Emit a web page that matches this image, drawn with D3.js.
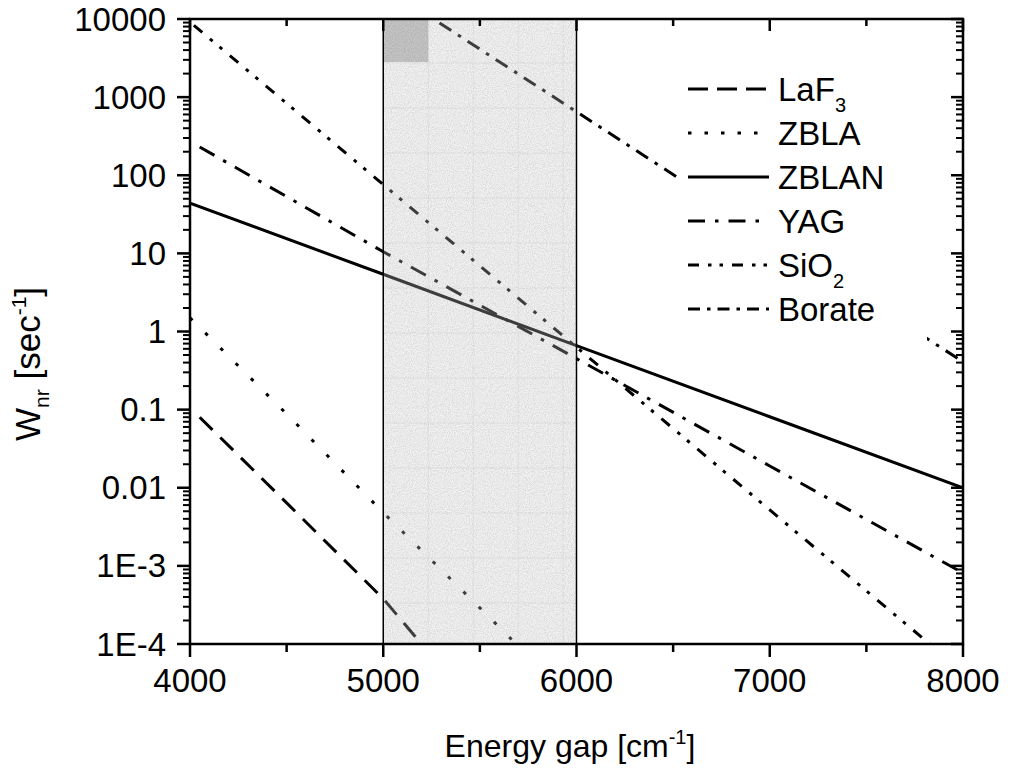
<!DOCTYPE html>
<html>
<head>
<meta charset="utf-8">
<script src="https://cdn.jsdelivr.net/npm/d3@7"></script>
<style>
  html, body { margin: 0; padding: 0; background: #fff; }
  svg { display: block; }
  text { font-family: "Liberation Sans", Arial, sans-serif; fill: #000; }
</style>
</head>
<body>
<svg id="chart" width="1010" height="772"></svg>
<script>
// Non-radiative decay rate vs. energy gap for several host materials
const laf3E   = [4050, 4500, 5000, 5500];
const laf3W   = [0.08, 0.0064, 3.8e-4, 1.3e-5];
const zblaE   = [4000, 4500, 5000, 5500, 6000];
const zblaW   = [1.5, 0.088, 0.0048, 2.9e-4, 1.7e-5];
const zblanE  = [4000, 5000, 6000, 7000, 8000];
const zblanW  = [44, 5.4, 0.66, 0.081, 0.01];
const yagE    = [4050, 5000, 6000, 7000, 8000];
const yagW    = [230, 10.5, 0.45, 0.019, 8.1e-4];
const sio2E   = [4020, 5000, 6000, 7000, 8000];
const sio2W   = [8300, 76, 0.63, 5.2e-3, 4.4e-5];
const borateE = [5000, 6000, 7000, 8000];
const borateW = [26000, 650, 16, 0.41];

const seriesNames = ["LaF", "ZBLA", "ZBLAN", "YAG", "SiO", "Borate"];
const seriesSubs  = ["3", "", "", "", "2", ""];

const xTicks = [4000, 5000, 6000, 7000, 8000];
const xMinorTicks = [4500, 5500, 6500, 7500];
const yTickValues = [1e-4, 1e-3, 0.01, 0.1, 1, 10, 100, 1000, 10000];
const yTickLabels = ["1E-4", "1E-3", "0.01", "0.1", "1", "10", "100", "1000", "10000"];
const bandRange = [5000, 6000];

const dashes = ["18,11", "3.5,18", null, "17,10,3.5,10", "11,10,3.5,9,3.5,10", "14,8,3.5,8"];
const legendDashes = ["20,9", "3.5,13", null, "17,10,3.5,10", "11,9,3.5,8,3.5,9", "12,7,3.5,7"];
const widths = [3, 3, 3, 3, 3, 3];

const series = [
  { E: laf3E, W: laf3W },
  { E: zblaE, W: zblaW },
  { E: zblanE, W: zblanW },
  { E: yagE, W: yagW },
  { E: sio2E, W: sio2W },
  { E: borateE, W: borateW }
].map((s, i) => ({
  name: seriesNames[i],
  sub: seriesSubs[i],
  dash: dashes[i],
  legendDash: legendDashes[i],
  width: widths[i],
  points: s.E.map((e, j) => ({ e, w: s.W[j] }))
}));

const svg = d3.select("#chart");
const L = 190, R = 963, T = 19, B = 644;

const x = d3.scaleLinear().domain([4000, 8000]).range([L, R]);
const y = d3.scaleLog().domain([1e-4, 1e4]).range([B, T]);

const defs = svg.append("defs");
defs.append("clipPath").attr("id", "plotClip")
  .append("rect").attr("x", L).attr("y", T).attr("width", R - L).attr("height", B - T);

// grainy texture for the shaded band
const grain = defs.append("filter").attr("id", "grain")
  .attr("x", 0).attr("y", 0).attr("width", 1).attr("height", 1);
grain.append("feTurbulence").attr("type", "fractalNoise")
  .attr("baseFrequency", 0.95).attr("numOctaves", 2).attr("seed", 3).attr("result", "noise");
grain.append("feColorMatrix").attr("in", "noise").attr("type", "matrix")
  .attr("values", "0 0 0 0 0  0 0 0 0 0  0 0 0 0 0  0.9 0 0 0 -0.32");

// ---- data lines ----
const line = d3.line().x(d => x(d.e)).y(d => y(d.w));
const lines = svg.append("g").attr("clip-path", "url(#plotClip)");
lines.selectAll("path").data(series).join("path")
  .attr("d", d => line(d.points))
  .attr("fill", "none")
  .attr("stroke", "#000")
  .attr("stroke-width", d => d.width)
  .attr("stroke-dasharray", d => d.dash);

// ---- shaded energy band (drawn over the lines, semi-transparent) ----
const bx0 = x(bandRange[0]), bx1 = x(bandRange[1]);
const band = svg.append("g");
band.append("rect")
  .attr("x", bx0).attr("y", T).attr("width", bx1 - bx0).attr("height", B - T)
  .attr("fill", "#d2d2d2").attr("fill-opacity", 0.3);

// faint texture grid inside the band
const cell = 45;
const grid = band.append("g").attr("stroke", "#8a8a8a").attr("stroke-opacity", 0.1).attr("stroke-width", 1);
for (let gx = bx0 + cell; gx < bx1; gx += cell) {
  grid.append("line").attr("x1", gx).attr("x2", gx).attr("y1", T).attr("y2", B);
}
for (let gy = T + 44; gy < B; gy += cell) {
  grid.append("line").attr("x1", bx0).attr("x2", bx1).attr("y1", gy).attr("y2", gy);
}
// darker corner cell
band.append("rect")
  .attr("x", bx0).attr("y", T).attr("width", cell).attr("height", 43)
  .attr("fill", "#a0a0a0").attr("fill-opacity", 0.55);
// grain overlay
band.append("rect")
  .attr("x", bx0).attr("y", T).attr("width", bx1 - bx0).attr("height", B - T)
  .attr("fill", "#000").attr("filter", "url(#grain)").attr("opacity", 0.25);
// band borders
band.append("line").attr("x1", bx0).attr("x2", bx0).attr("y1", T).attr("y2", B)
  .attr("stroke", "#000").attr("stroke-width", 1.5);
band.append("line").attr("x1", bx1).attr("x2", bx1).attr("y1", T).attr("y2", B)
  .attr("stroke", "#000").attr("stroke-width", 1.5);

// ---- legend ----
const legend = svg.append("g");
legend.append("rect").attr("x", 680).attr("y", 58).attr("width", 247).attr("height", 287)
  .attr("fill", "#fff");
const rowY = i => 89 + i * 44;
series.forEach((s, i) => {
  const yy = rowY(i);
  legend.append("line")
    .attr("x1", 688).attr("x2", 769).attr("y1", yy).attr("y2", yy)
    .attr("stroke", "#000").attr("stroke-width", s.width)
    .attr("stroke-dasharray", s.legendDash);
  const t = legend.append("text").attr("x", 778).attr("y", yy + 12)
    .attr("font-size", 33).text(s.name);
  if (s.sub) {
    t.append("tspan").attr("font-size", 20).attr("dy", 11).text(s.sub);
  }
});

// ---- axes frame and ticks ----
const axes = svg.append("g").attr("stroke", "#000");
axes.append("rect").attr("x", L).attr("y", T).attr("width", R - L).attr("height", B - T)
  .attr("fill", "none").attr("stroke-width", 2.5);

const majLen = 13, minLen = 7;
// bottom (outward) and top (inward)
xTicks.forEach(v => {
  axes.append("line").attr("x1", x(v)).attr("x2", x(v)).attr("y1", B).attr("y2", B + majLen).attr("stroke-width", 2.5);
  axes.append("line").attr("x1", x(v)).attr("x2", x(v)).attr("y1", T).attr("y2", T + 12).attr("stroke-width", 2.5);
});
xMinorTicks.forEach(v => {
  axes.append("line").attr("x1", x(v)).attr("x2", x(v)).attr("y1", B).attr("y2", B + minLen + 1).attr("stroke-width", 2.5);
  axes.append("line").attr("x1", x(v)).attr("x2", x(v)).attr("y1", T).attr("y2", T + minLen).attr("stroke-width", 2.5);
});
// left (outward) and right (inward), log minor ticks
yTickValues.forEach((v, i) => {
  axes.append("line").attr("x1", L - majLen).attr("x2", L).attr("y1", y(v)).attr("y2", y(v)).attr("stroke-width", 2.5);
  axes.append("line").attr("x1", R - 12).attr("x2", R).attr("y1", y(v)).attr("y2", y(v)).attr("stroke-width", 2.5);
  if (i < yTickValues.length - 1) {
    for (let m = 2; m <= 9; m++) {
      const yy = y(v * m);
      axes.append("line").attr("x1", L - minLen).attr("x2", L).attr("y1", yy).attr("y2", yy).attr("stroke-width", 2);
      axes.append("line").attr("x1", R - minLen).attr("x2", R).attr("y1", yy).attr("y2", yy).attr("stroke-width", 2);
    }
  }
});

// tick labels
const labels = svg.append("g").attr("font-size", 33);
xTicks.forEach(v => {
  labels.append("text").attr("x", x(v)).attr("y", 692).attr("text-anchor", "middle").text(v);
});
yTickValues.forEach((v, i) => {
  labels.append("text").attr("x", 166).attr("y", y(v)).attr("dy", "0.35em")
    .attr("text-anchor", "end").text(yTickLabels[i]);
});

// axis titles
const xt = svg.append("text").attr("x", 570).attr("y", 757)
  .attr("text-anchor", "middle").attr("font-size", 32);
xt.append("tspan").text("Energy gap [cm");
xt.append("tspan").attr("font-size", 20).attr("dy", -13).text("-1");
xt.append("tspan").attr("dy", 13).text("]");

const yt = svg.append("text")
  .attr("transform", "translate(40,441) rotate(-90)")
  .attr("text-anchor", "start").attr("font-size", 35);
yt.append("tspan").text("W");
yt.append("tspan").attr("font-size", 21).attr("dy", 9).text("nr");
yt.append("tspan").attr("dy", -9).text(" [sec");
yt.append("tspan").attr("font-size", 21).attr("dy", -14).text("-1");
yt.append("tspan").attr("dy", 14).text("]");
</script>
</body>
</html>
